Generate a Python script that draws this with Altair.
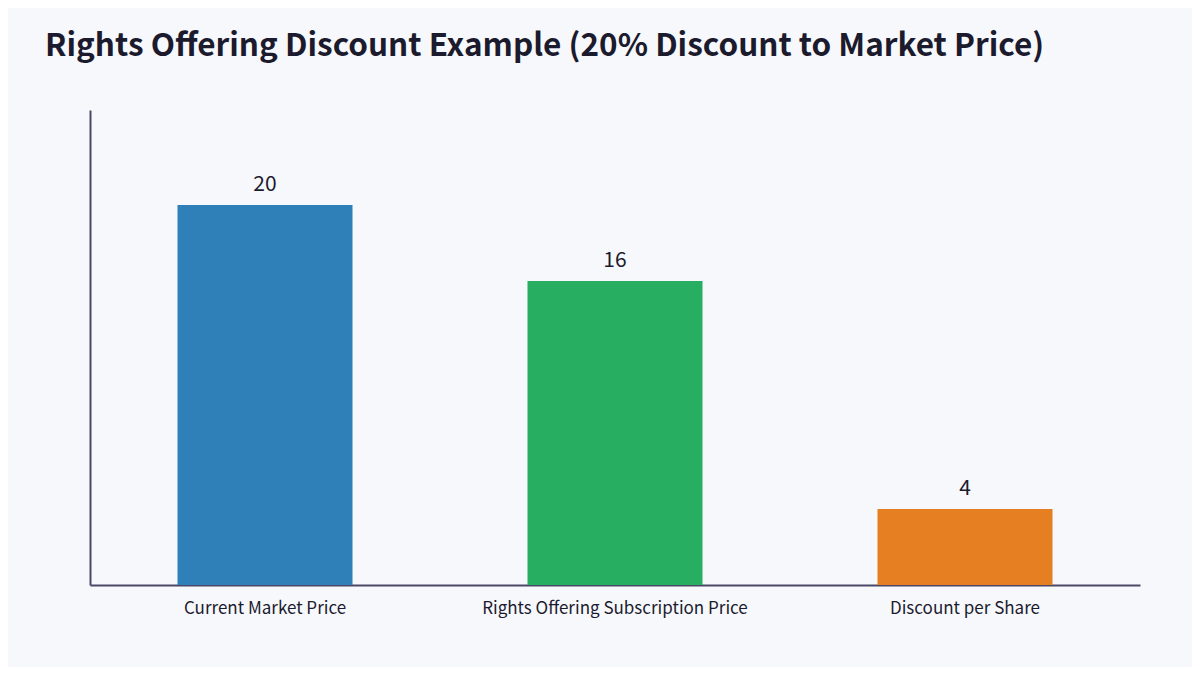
import altair as alt
import pandas as pd

# values
categories = ["Current Market Price", "Rights Offering Subscription Price", "Discount per Share"]
values = [20, 16, 4]
colors = ["#2f80b9", "#27ae60", "#e67e22"]

FONT = "Noto Sans CJK KR"
INK = "#1c1b2e"
BG = "#f7f8fc"

df = pd.DataFrame({"item": categories, "price": values})

x = alt.X("item:N", sort=categories, title=None,
          scale=alt.Scale(paddingInner=0.5, paddingOuter=0.25),
          axis=alt.Axis(labelAngle=0, labelFontSize=17, labelColor=INK, labelFont=FONT,
                        labelPadding=15, ticks=False, domainColor="#4a4866", domainWidth=2,
                        labelLimit=400))
y = alt.Y("price:Q", title=None, scale=alt.Scale(domain=[0, 25]),
          axis=alt.Axis(labels=False, ticks=False, grid=False,
                        domainColor="#4a4866", domainWidth=2))

base = alt.Chart(df).encode(x=x, y=y)

bars = base.mark_bar().encode(
    color=alt.Color("item:N", scale=alt.Scale(domain=categories, range=colors), legend=None)
)

labels = base.mark_text(baseline="bottom", dy=-10, fontSize=21, font=FONT, color=INK).encode(
    text=alt.Text("price:Q")
)

chart = (bars + labels).properties(
    width=1050,
    height=475,
    autosize=alt.AutoSizeParams(type="none"),
    padding={"left": 82, "top": 102, "right": 52, "bottom": 82},
    background=BG,
    title=alt.TitleParams(
        "Rights Offering Discount Example (20% Discount to Market Price)",
        anchor="start", frame="group", dx=-45, offset=48,
        font=FONT, fontSize=31.5, fontWeight="bold", color=INK,
    ),
).configure_view(stroke=None, fill=BG)

chart.save("out.html", embed_options={"renderer": "svg", "actions": False})
